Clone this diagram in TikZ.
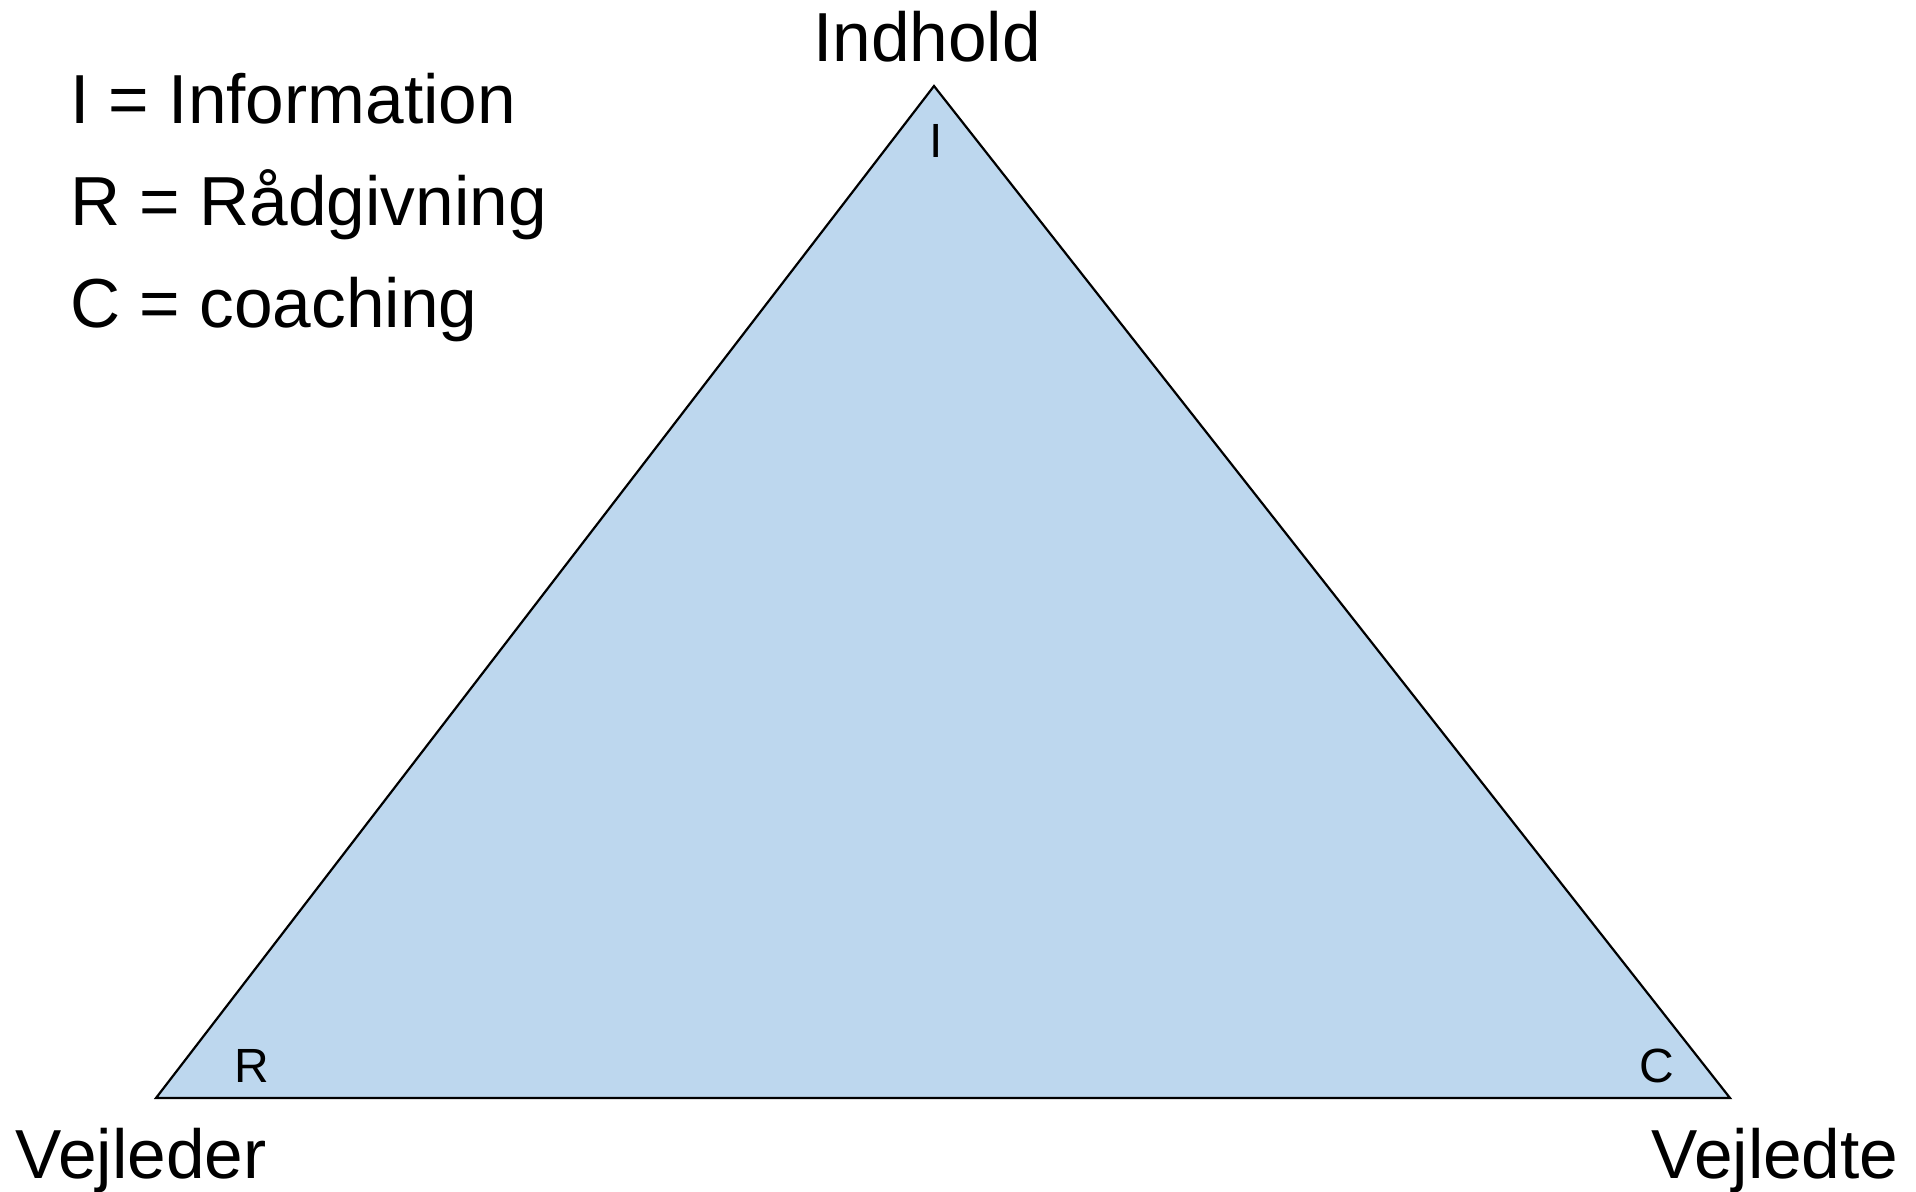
\documentclass[tikz,border=0pt]{standalone}
\usepackage{fontspec}
\setmainfont{Liberation Sans}
\usepackage{xcolor}
\definecolor{trifill}{HTML}{BDD7EE}
\usetikzlibrary{calc}

\begin{document}
\begin{tikzpicture}[x=0.5pt,y=-0.5pt,
    big/.style={inner sep=0pt,font=\fontsize{34.7}{40}\selectfont},
    small/.style={inner sep=0pt,font=\fontsize{24}{28}\selectfont}]
    \useasboundingbox (0,0) rectangle (1916,1191);

    \coordinate (top) at (934, 86);
    \coordinate (left) at (156, 1098);
    \coordinate (right) at (1730, 1098);

    \draw[fill=trifill,line width=1.1pt,line join=miter] (top) -- (left) -- (right) -- cycle;

    \node[big,anchor=base] (indhold) at (927, 61) {Indhold};
    \node[big,anchor=base] (vejleder) at (141, 1178) {Vejleder};
    \node[big,anchor=base] (vejledte) at (1775, 1178) {Vejledte};

    \node[small,anchor=base] (i) at (936, 157) {I};
    \node[small,anchor=base] (r) at (252, 1082) {R};
    \node[small,anchor=base] (c) at (1657, 1082) {C};

    \node[big,anchor=base west] (legend_i) at (70, 123) {I = Information};
    \node[big,anchor=base west] (legend_r) at (70, 225) {R = Rådgivning};
    \node[big,anchor=base west] (legend_c) at (70, 327) {C = coaching};

  \end{tikzpicture}
\end{document}
